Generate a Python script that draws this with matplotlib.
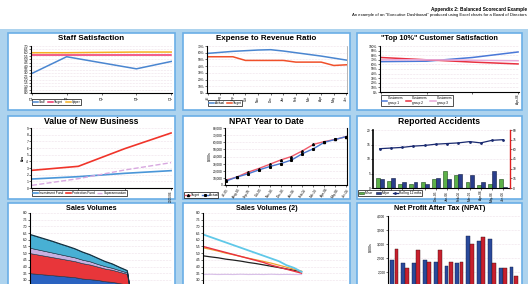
import matplotlib
matplotlib.use('Agg')
import matplotlib.pyplot as plt
from matplotlib.patches import Rectangle
import numpy as np

plt.rcParams['font.family'] = ['Liberation Sans', 'DejaVu Sans']

# ---------------- data ----------------
staff_periods = ['Q1', 'Q2', 'Q3', 'Q4', 'Q1']
staff_actual = [2.9, 5.4, 4.5, 3.6, 4.7]
staff_target = [5.7, 5.7, 5.7, 5.7, 5.7]
staff_upper = [6.0, 6.0, 6.05, 6.1, 6.1]

months_short = ['Jul', 'Aug', 'Sep', 'Oct', 'Nov', 'Dec',
                'Jan', 'Feb', 'Mar', 'Apr', 'May', 'Jun']
months = ['Jul-05', 'Aug-05', 'Sep-05', 'Oct-05', 'Nov-05', 'Dec-05',
          'Jan-06', 'Feb-06', 'Mar-06', 'Apr-06', 'May-06', 'Jun-06']
exp_actual = [59, 60.5, 62, 63, 64, 64.5, 62.5, 60, 57.5, 55, 52, 49]
exp_target = [54, 54, 54, 48.5, 48.5, 48.5, 48.5, 46, 46, 46, 41, 42]

cust_periods = ['', '', '', 'Apr-06']
cust_g1 = [0.66, 0.67, 0.75, 0.87]
cust_g2 = [0.75, 0.70, 0.65, 0.61]
cust_g3 = [0.70, 0.70, 0.69, 0.68]

nb_years = ['', '', '', '2005/06']
nb_a = [1.35, 1.7, 2.2, 2.6]
nb_b = [2.65, 3.25, 5.9, 8.25]
nb_c = [0.4, 1.4, 2.7, 3.8]

npat_ytd_actual = [5300, 11000, 15500, 21000, 25800, 30000, 35000, 44000, 51000, 60000, 64000, 68000]
npat_ytd_target = [6700, 11000, 17800, 23000, 29000, 35000, 40000, 48000, 57000, 61000, 64000, 68000]

acc_months = ['', '', '', '', '', 'Dec-05', 'Jan-06', 'Feb-06', 'Mar-06', 'Apr-06', 'May-06', 'Jun-06']
acc_minor = [3.5, 2.5, 1.5, 1.5, 2.0, 3.0, 6.0, 4.5, 2.0, 1.0, 1.5, 3.0]
acc_major = [3.0, 3.5, 2.0, 2.0, 1.5, 3.5, 3.0, 5.0, 4.5, 2.0, 6.0, 0.5]
acc_rolling = [61, 62, 63, 65, 66, 68, 69, 70, 72, 70, 74, 75]

sv_periods = list(range(15))
sv_blue = [3.5, 3.45, 3.4, 3.35, 3.3, 3.25, 3.2, 3.1, 3.05, 3.0, 2.9, 2.85, 2.75, 2.65, 0]
sv_red = [1.5, 1.45, 1.4, 1.35, 1.3, 1.25, 1.2, 1.15, 1.1, 1.0, 0.95, 0.9, 0.85, 0.8, 0]
sv_lav = [0.4, 0.38, 0.36, 0.34, 0.32, 0.3, 0.28, 0.26, 0.24, 0.2, 0.18, 0.15, 0.12, 0.1, 0]
sv_cyan = [1.0, 0.95, 0.9, 0.85, 0.78, 0.72, 0.65, 0.58, 0.5, 0.44, 0.36, 0.3, 0.22, 0.15, 0]

sv2_cyan = [6.4, 6.2, 6.0, 5.8, 5.6, 5.4, 5.2, 5.0, 4.8, 4.6, 4.4, 4.1, 3.9, 3.6]
sv2_red = [5.5, 5.35, 5.2, 5.05, 4.9, 4.75, 4.6, 4.45, 4.3, 4.1, 3.95, 3.8, 3.65, 3.5]
sv2_orange = [5.4, 5.28, 5.15, 5.0, 4.88, 4.75, 4.62, 4.5, 4.38, 4.25, 4.1, 3.95, 3.8, 3.65]
sv2_black = [4.8, 4.72, 4.65, 4.55, 4.48, 4.4, 4.3, 4.22, 4.12, 4.02, 3.92, 3.82, 3.72, 3.62]
sv2_lav = [3.4, 3.42, 3.4, 3.41, 3.4, 3.42, 3.4, 3.41, 3.4, 3.42, 3.4, 3.41, 3.4, 3.4]

npat_actual = [2429, 2333, 2333, 2429, 2345, 2214, 2333, 3286, 3119, 3167, 2131, 2167]
npat_budget = [2810, 2131, 2786, 2369, 2786, 2345, 2369, 3000, 3238, 2333, 2131, 1869]

# ---------------- layout ----------------
W, H = 528, 284
fig = plt.figure(figsize=(W / 100, H / 100), dpi=100)
fig.patch.set_facecolor('white')


def fx(x):
    return x / W


def fy(y):
    return 1 - y / H


def add_ax(x0, y0, x1, y1):
    return fig.add_axes([x0 / W, 1 - y1 / H, (x1 - x0) / W, (y1 - y0) / H])


fig.add_artist(Rectangle((0, 0), 1, fy(29), transform=fig.transFigure,
                         facecolor='#add3ee', edgecolor='none', zorder=-10))

cols = [(8, 175), (183, 350), (357, 522)]
rows = [(33, 110), (116, 199), (203, 320)]
for (r0, r1) in rows:
    for (c0, c1) in cols:
        fig.add_artist(Rectangle((fx(c0), fy(r1)), (c1 - c0) / W, (r1 - r0) / H,
                                 transform=fig.transFigure, facecolor='white',
                                 edgecolor='#6aaee6', lw=1.2, zorder=-5))

fig.text(fx(527), fy(10), 'Appendix 2: Balanced Scorecard Example', ha='right',
         va='center', fontsize=3.4, weight='bold')
fig.text(fx(527), fy(15), 'An example of an "Executive Dashboard" produced using Excel charts for a Board of Directors',
         ha='right', va='center', fontsize=3.1)

titles = [['Staff Satisfaction', 'Expense to Revenue Ratio', '"Top 10%" Customer Satisfaction'],
          ['Value of New Business', 'NPAT Year to Date', 'Reported Accidents'],
          ['Sales Volumes', 'Sales Volumes (2)', 'Net Profit After Tax (NPAT)']]
title_sizes = [[5.8, 5.8, 5.3], [6.2, 6.2, 6.2], [5.2, 5.2, 5.2]]
for ri, (r0, r1) in enumerate(rows):
    for ci, (c0, c1) in enumerate(cols):
        fig.text(fx((c0 + c1) / 2), fy(r0 + 6), titles[ri][ci], ha='center', va='center',
                 fontsize=title_sizes[ri][ci], weight='bold')

TS = 2.3


def style(ax, ylim, yticks, ylabels, xlabels, rot=90):
    ax.set_ylim(*ylim)
    ax.set_yticks(yticks)
    ax.set_yticklabels(ylabels)
    ax.set_xticks(range(len(xlabels)))
    ax.set_xticklabels(xlabels, rotation=rot)
    ax.tick_params(labelsize=TS, length=1.2, width=0.4, pad=0.8)
    ax.grid(axis='y', color='#e0c8d8', lw=0.4, ls=':')
    ax.set_axisbelow(True)
    for s in ['top', 'right']:
        ax.spines[s].set_visible(False)
    for s in ['left', 'bottom']:
        ax.spines[s].set_linewidth(0.8)


def legend(ax, x, y, ncol, handles=None, labels=None):
    kw = dict(loc='upper left', bbox_to_anchor=(fx(x), fy(y)), bbox_transform=fig.transFigure,
              ncol=ncol, fontsize=2.3, frameon=True, handlelength=1.6, handletextpad=0.3,
              columnspacing=0.8, borderpad=0.3, borderaxespad=0, fancybox=False)
    if handles is not None:
        lg = ax.legend(handles, labels, **kw)
    else:
        lg = ax.legend(**kw)
    lg.get_frame().set_edgecolor('black')
    lg.get_frame().set_linewidth(0.6)
    return lg


# Panel 1: Staff satisfaction
ax = add_ax(31, 46, 172, 93)
x = range(len(staff_periods))
ax.plot(x, staff_actual, color='#4a86d0', lw=1.1, label='Staff')
ax.plot(x, staff_target, color='#f0306a', lw=1.1, label='Target')
ax.plot(x, staff_upper, color='#f5b020', lw=1.1, label='Upper')
yt = np.arange(0, 7.01, 0.5)
style(ax, (0, 7), yt, ['%.1f' % v for v in yt], staff_periods)
ax.set_xlim(-0.02, len(staff_periods) - 0.98)
legend(ax, 32, 99, 3)

# Panel 2: Expense to revenue
ax = add_ax(207, 46, 347, 93)
x = range(len(months_short))
ax.plot(x, exp_actual, color='#4a86d0', lw=1.1, label='Actual')
ax.plot(x, exp_target, color='#f0502a', lw=1.1, label='Target')
yt = np.arange(0, 71, 10)
style(ax, (0, 70), yt, ['%d%%' % v for v in yt], months_short)
ax.set_xlim(-0.05, len(months_short) - 0.95)
ax.spines['right'].set_visible(True)
ax.spines['right'].set_color('#999999')
ax.spines['right'].set_linewidth(0.5)
legend(ax, 208, 100, 2)

# Panel 3: Customer satisfaction
ax = add_ax(380, 46, 519, 92)
x = range(len(cust_periods))
ax.plot(x, cust_g1, color='#4a78d8', lw=1.1, label='Customers\ngroup 1')
ax.plot(x, cust_g2, color='#e83040', lw=1.1, label='Customers\ngroup 2')
ax.plot(x, cust_g3, color='#e8a8d8', lw=1.1, label='Customers\ngroup 3')
yt = np.arange(0, 1.01, 0.1)
style(ax, (0, 1.0), yt, ['%d%%' % round(v * 100) for v in yt], cust_periods)
ax.set_xlim(-0.02, len(cust_periods) - 0.98)
legend(ax, 381, 95, 3)

# Panel 4: Value of new business
ax = add_ax(31, 128, 172, 188)
x = range(len(nb_years))
ax.plot(x, nb_a, color='#4a96d8', lw=1.2, label='Investment Fund')
ax.plot(x, nb_b, color='#f0342a', lw=1.2, label='Protection Fund')
ax.plot(x, nb_c, color='#d8a8e0', lw=1.0, ls='--', label='Superannuation')
yt = np.arange(0, 9.1, 1)
style(ax, (0, 9), yt, ['%d' % v for v in yt], nb_years)
ax.set_xlim(-0.02, len(nb_years) - 0.98)
ax.set_ylabel('£m', fontsize=3, labelpad=1, weight='bold')
legend(ax, 32, 190, 3)

# Panel 5: NPAT YTD
ax = add_ax(225, 128, 347, 185)
x = range(len(months))
ax.plot(x, npat_ytd_target, color='#f05a6a', lw=1.0, marker='^', ms=1.5, mfc='black', mec='black', label='Target')
ax.plot(x, npat_ytd_actual, color='#4a78d0', lw=1.0, marker='s', ms=1.2, mfc='black', mec='black', label='Actual')
yt = np.arange(0, 80001, 10000)
style(ax, (0, 80000), yt, ['{:,}'.format(int(v)) for v in yt], months, rot=55)
ax.set_xlim(-0.05, len(months) - 0.95)
ax.spines['right'].set_visible(True)
ax.set_ylabel('$000s', fontsize=2.5, labelpad=1)
legend(ax, 184, 192, 2)

# Panel 6: Reported accidents
ax = add_ax(373, 130, 510, 188)
x = np.arange(len(acc_months))
ax.bar(x - 0.18, acc_minor, width=0.34, color='#5cb048', edgecolor='#1a4a1a', lw=0.4, label='Minor')
ax.bar(x + 0.18, acc_major, width=0.34, color='#2a3e8c', edgecolor='#101a40', lw=0.4, label='Major')
yt = np.arange(0, 21, 5)
style(ax, (0, 20), yt, ['%d' % v for v in yt], acc_months)
ax.set_xlim(-0.6, len(acc_months) - 0.4)
ax.spines['left'].set_linewidth(1.2)
ax2 = ax.twinx()
ax2.plot(x, acc_rolling, color='#1a2a70', lw=0.9, marker='o', ms=1.0, label='Rolling 12 mths')
ax2.set_ylim(0, 90)
ax2.set_yticks(np.arange(0, 91, 15))
ax2.tick_params(labelsize=TS, length=1.2, width=0.4, pad=0.8)
for s in ['top', 'left', 'bottom']:
    ax2.spines[s].set_visible(False)
ax2.spines['right'].set_color('#e02020')
ax2.spines['right'].set_linewidth(1.0)
h1, l1 = ax.get_legend_handles_labels()
h2, l2 = ax2.get_legend_handles_labels()
legend(ax2, 358, 190, 3, h1 + h2, l1 + l2)

# Panel 7: Sales volumes (stacked area)
ax = add_ax(30, 213, 172, 320)
ax.stackplot(sv_periods, sv_blue, sv_red, sv_lav, sv_cyan,
             colors=['#2a62c0', '#e8363a', '#c8b0e0', '#48b0d4'], edgecolor='#1a3040', lw=0.4)
top = np.array(sv_blue) + np.array(sv_red) + np.array(sv_lav) + np.array(sv_cyan)
ax.plot(sv_periods, top, color='#103040', lw=0.8)
yt = np.arange(3.0, 8.01, 0.5)
style(ax, (0, 8), yt, ['%.1f' % v for v in yt], [])
ax.set_xlim(0, 19)
ax.set_xticks([])

# Panel 8: Sales volumes (2)
ax = add_ax(203, 213, 347, 320)
x = range(len(sv2_cyan))
ax.plot(x, sv2_lav, color='#d8c0e8', lw=0.8)
ax.plot(x, sv2_black, color='#202020', lw=0.9)
ax.plot(x, sv2_orange, color='#f0a030', lw=0.9)
ax.plot(x, sv2_red, color='#e83040', lw=1.0)
ax.plot(x, sv2_cyan, color='#60c8e8', lw=1.3)
yt = np.arange(3.0, 8.01, 0.5)
style(ax, (0, 8), yt, ['%.1f' % v for v in yt], [])
ax.set_xlim(0, 19)
ax.set_xticks([])

# Panel 9: NPAT bars
ax = add_ax(388, 216, 520, 328)
x = np.arange(len(months))
ax.bar(x - 0.19, npat_actual, width=0.36, color='#2a4a9c', edgecolor='#101a40', lw=0.3)
ax.bar(x + 0.19, npat_budget, width=0.36, color='#c8202e', edgecolor='#401010', lw=0.3)
yt = np.arange(2000, 4001, 500)
style(ax, (0, 4000), yt, ['{:,}'.format(int(v)) for v in yt], [])
ax.set_xlim(-0.6, len(months) - 0.4)
ax.set_xticks([])
ax.text(-0.13, 0.72, '$000s', transform=ax.transAxes, rotation=90, fontsize=2.5,
        ha='center', va='center')

fig.savefig('out.png', dpi=100, facecolor='white')
